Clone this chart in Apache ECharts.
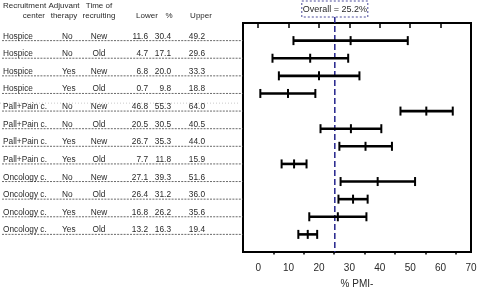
<!DOCTYPE html>
<html><head><meta charset="utf-8">
<script src="https://cdn.jsdelivr.net/npm/echarts@6/dist/echarts.min.js"></script>
<style>html,body{margin:0;padding:0;background:#fff}#c{width:477px;height:287px}</style>
</head><body><div id="c"></div>
<script>
const centers = ['Hospice','Hospice','Hospice','Hospice','Pall+Pain c.','Pall+Pain c.','Pall+Pain c.','Pall+Pain c.','Oncology c.','Oncology c.','Oncology c.','Oncology c.'];
const therapy = ['No','No','Yes','Yes','No','No','Yes','Yes','No','No','Yes','Yes'];
const times = ['New','Old','New','Old','New','Old','New','Old','New','Old','New','Old'];
const lower = [11.6, 4.7, 6.8, 0.7, 46.8, 20.5, 26.7, 7.7, 27.1, 26.4, 16.8, 13.2];
const pct = [30.4, 17.1, 20.0, 9.8, 55.3, 30.5, 35.3, 11.8, 39.3, 31.2, 26.2, 16.3];
const upper = [49.2, 29.6, 33.3, 18.8, 64.0, 40.5, 44.0, 15.9, 51.6, 36.0, 35.6, 19.4];
const overall = 25.2;
const xMajorTicks = [0, 10, 20, 30, 40, 50, 60, 70];
const xMinorTicks = [5, 15, 25, 35, 45, 55, 65];
const headers = [
  ['Recruitment', 'center'],
  ['Adjuvant', 'therapy'],
  ['Time of', 'recruiting'],
  ['', 'Lower'],
  ['', '%'],
  ['', 'Upper']
];

const FONT = '"Liberation Sans", Arial, sans-serif';
const TXT = '#2a2a2a';
const XMIN = -5, XMAX = 70;

const rows = lower.map((v, i) => [i + 1, lower[i], pct[i], upper[i], i]);

function txt(x, y, s, align, size) {
  return { type: 'text', style: { x: x, y: y, text: s, fill: TXT, font: (size || 8.3) + 'px ' + FONT, textAlign: align || 'left', textVerticalAlign: 'bottom' } };
}

function renderRow(params, api) {
  const row = api.value(0), lo = api.value(1), mid = api.value(2), hi = api.value(3), idx = api.value(4);
  const pL = api.coord([lo, row]), pM = api.coord([mid, row]), pH = api.coord([hi, row]);
  const pEdge = api.coord([XMIN, row]);
  const y = pL[1];
  const ty = y - 0.3;
  const ch = [];
  ch.push({ type: 'line', shape: { x1: 2, y1: y, x2: pEdge[0], y2: y }, style: { stroke: '#444', lineWidth: 0.8, lineDash: [2, 1.2] } });
  if (idx === 4) {
    const ps = api.coord([XMIN, row - 0.45]);
    ch.push({ type: 'line', shape: { x1: 0, y1: ps[1], x2: 238, y2: ps[1] }, style: { stroke: '#bbb', lineWidth: 0.8, lineDash: [1, 2] } });
  }
  ch.push(txt(3, ty, centers[idx], 'left'));
  ch.push(txt(62, ty, therapy[idx], 'left'));
  ch.push(txt(99, ty, times[idx], 'center'));
  ch.push(txt(148, ty, lower[idx].toFixed(1), 'right'));
  ch.push(txt(171, ty, pct[idx].toFixed(1), 'right'));
  ch.push(txt(205, ty, upper[idx].toFixed(1), 'right'));
  const bar = { stroke: '#000', lineWidth: 2.6 };
  ch.push({ type: 'line', shape: { x1: pL[0], y1: y, x2: pH[0], y2: y }, style: bar });
  [pL, pM, pH].forEach(p => ch.push({ type: 'line', shape: { x1: p[0], y1: y - 4.5, x2: p[0], y2: y + 4.5 }, style: { stroke: '#000', lineWidth: 2 } }));
  return { type: 'group', children: ch };
}

function renderOverall(params, api) {
  const pTop = api.coord([api.value(0), 0]);
  const pBot = api.coord([api.value(0), 13]);
  const x = pTop[0];
  const label = 'Overall = ' + api.value(0).toFixed(1) + '%';
  return { type: 'group', children: [
    { type: 'line', shape: { x1: x, y1: pTop[1] - 6, x2: x, y2: pBot[1] }, style: { stroke: '#23238c', lineWidth: 1.5, lineDash: [6, 3] } },
    { type: 'rect', shape: { x: x - 33, y: 1, width: 66, height: 16 }, style: { fill: '#fff', stroke: '#4a4a9a', lineWidth: 1, lineDash: [2, 2] } },
    { type: 'text', style: { x: x, y: 9.5, text: label, fill: TXT, font: '9px ' + FONT, textAlign: 'center', textVerticalAlign: 'middle' } }
  ] };
}

const headerGraphics = [];
const hx = [[45, 'right'], [64, 'center'], [99, 'center'], [147, 'center'], [169, 'center'], [201, 'center']];
headers.forEach((h, i) => {
  h.forEach((s, j) => {
    if (!s) return;
    let x = hx[i][0], align = hx[i][1];
    if (i === 0 && j === 0) { x = 3; align = 'left'; }
    headerGraphics.push({ type: 'text', x: x, y: j === 0 ? 2 : 12, style: { text: s, fill: TXT, font: '8px ' + FONT, textAlign: align, textVerticalAlign: 'top' } });
  });
});

const chart = echarts.init(document.getElementById('c'), null, { renderer: 'canvas' });
chart.setOption({
  animation: false,
  backgroundColor: '#fff',
  grid: { left: 243, right: 6, top: 23, bottom: 35, show: true, borderColor: '#000', borderWidth: 2, backgroundColor: 'transparent', containLabel: false, outerBoundsMode: 'none' },
  xAxis: [
    { type: 'value', min: XMIN, max: XMAX, position: 'bottom',
      axisLine: { show: true, lineStyle: { color: '#000', width: 2 } },
      axisTick: { show: true, length: 5, customValues: xMajorTicks, lineStyle: { color: '#000', width: 1.5 } },
      axisLabel: { show: true, customValues: xMajorTicks, color: TXT, fontSize: 10, fontFamily: FONT, margin: 11 },
      splitLine: { show: false },
      name: '% PMI-', nameLocation: 'middle', nameGap: 27, nameTextStyle: { color: TXT, fontSize: 10, fontFamily: FONT } },
    { type: 'value', min: XMIN, max: XMAX, position: 'bottom',
      axisLine: { show: false },
      axisTick: { show: true, length: 2.5, customValues: xMinorTicks, lineStyle: { color: '#000', width: 1.5 } },
      axisLabel: { show: false }, splitLine: { show: false } }
  ],
  yAxis: { type: 'value', min: 0, max: 13, inverse: true, show: false, splitLine: { show: false } },
  graphic: headerGraphics,
  series: [
    { type: 'custom', data: rows, renderItem: renderRow, clip: false, xAxisIndex: 0, yAxisIndex: 0 },
    { type: 'custom', data: [[overall]], renderItem: renderOverall, clip: false, xAxisIndex: 0, yAxisIndex: 0, z: 1 }
  ]
});
</script>
</body></html>
